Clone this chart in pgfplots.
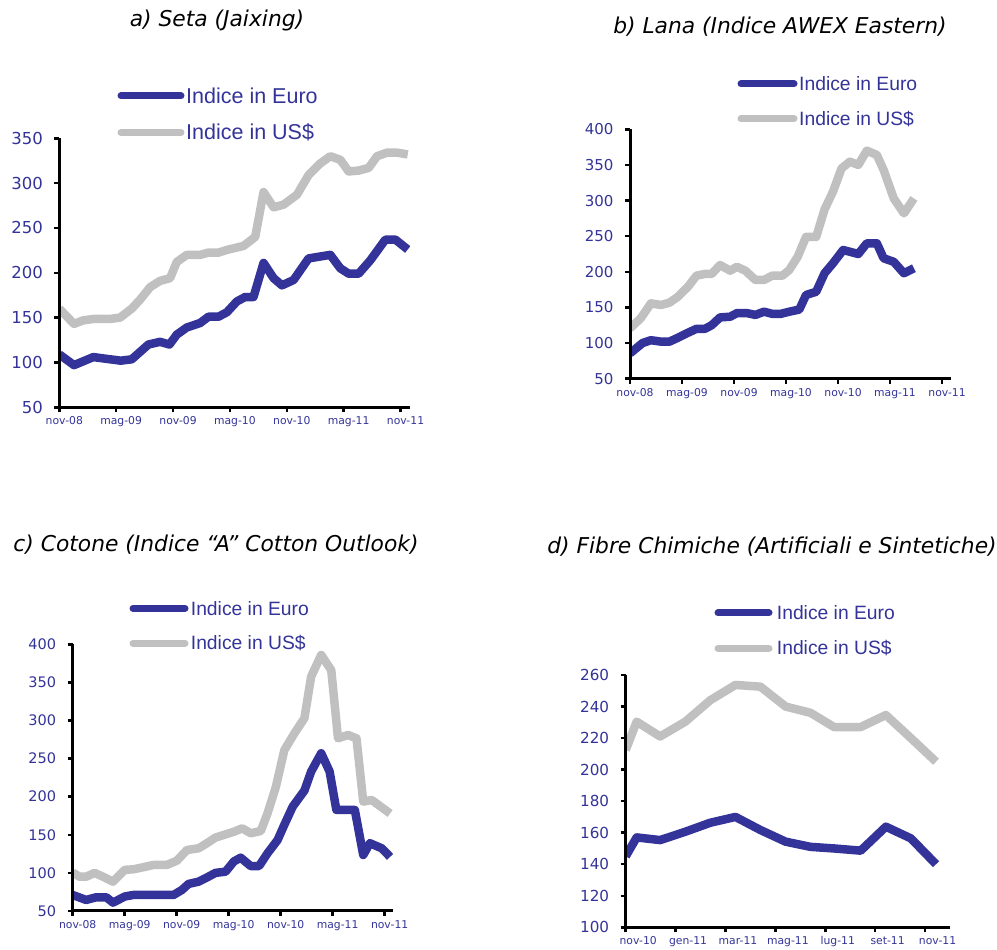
\documentclass[border=0pt]{standalone}
\usepackage{pgfplots}
\pgfplotsset{compat=1.18}
\usepackage{fontspec}
\setmainfont{DejaVu Sans}
\newfontfamily\legfont{Liberation Sans}

\definecolor{euro}{RGB}{51,51,153}
\definecolor{usd}{RGB}{192,192,192}

\pgfplotsset{
  panel/.style={
    scale only axis,
    anchor=south west,
    axis lines=left,
    axis on top,
    axis line style={-, line width=3pt, black},
    tick align=outside,
    major tick length=5pt,
    tick style={black, line width=2.5pt},
    minor tick num=0,
    ticklabel style={color=euro},
    /pgf/number format/assume math mode=true,
    x tick label style={font=\fontsize{10.8}{12}\selectfont, yshift=-1pt,
      text height=8pt, text depth=2pt},
    y tick label style={xshift=-8pt},
  },
  eu/.style={euro, line width=8.5pt, line join=round},
  us/.style={usd, line width=8.5pt, line join=round},
}

\newcommand{\legline}[4]{% x1 x2 y color
  \draw[#4, line width=7pt, line cap=round] (#1pt,#3pt) -- (#2pt,#3pt);}

\begin{document}
\begin{tikzpicture}
\path[use as bounding box] (0,0) rectangle (997pt,950pt);

% ---------------- a) Seta
\begin{axis}[panel,
  at={(59.3pt,542.7pt)}, width=350.7pt, height=269pt,
  xmin=0, xmax=37, ymin=50, ymax=350,
  xtick={0,6,...,36},
  xticklabels={nov-08,mag-09,nov-09,mag-10,nov-10,mag-11,nov-11},
  x tick label style={xshift=5pt},
  ytick={50,100,...,350},
  y tick label style={font=\fontsize{16.5}{18}\selectfont},
]
\addplot[us] coordinates {
(0,160) (1.55,143) (2.54,147) (3.59,148.5) (5.35,148.5) (6.41,150) (7.64,160)
(8.52,170) (9.58,184) (10.63,191) (11.69,194) (12.39,212) (13.45,220) (14.86,220)
(15.74,222.5) (16.80,222.5) (17.68,225.5) (19.44,230) (20.67,240) (21.55,290)
(22.61,273) (23.66,276) (25.07,287) (26.30,309) (27.54,322) (28.59,330) (29.65,326)
(30.53,313) (31.58,314) (32.64,317) (33.52,330) (34.58,334) (35.63,334) (36.76,332)
};
\addplot[eu] coordinates {
(0,109) (1.55,97) (3.59,106) (5.0,104) (6.48,102) (7.64,103.5) (9.40,120)
(10.63,123) (11.62,120) (12.39,131) (13.45,139) (14.86,144) (15.74,151) (16.80,151)
(17.68,156) (18.73,168) (19.61,173) (20.49,173) (21.55,211) (22.61,194) (23.49,186)
(24.72,192) (26.30,216) (28.59,220) (29.65,205) (30.53,199) (31.58,199) (32.82,214)
(34.40,237) (35.46,237) (36.76,226)
};
\end{axis}

% ---------------- b) Lana
\begin{axis}[panel,
  at={(630pt,571.3pt)}, width=320.7pt, height=249.4pt,
  xmin=0, xmax=37, ymin=50, ymax=400,
  xtick={0,6,...,36},
  xticklabels={nov-08,mag-09,nov-09,mag-10,nov-10,mag-11,nov-11},
  x tick label style={xshift=5pt},
  ytick={50,100,...,400},
  y tick label style={font=\fontsize{15}{16}\selectfont},
]
\addplot[us] coordinates {
(0,120.6) (1.25,135) (2.41,155.7) (3.58,153.4) (4.55,156.7) (5.53,165) (6.69,179)
(7.67,194.6) (8.64,197) (9.42,197) (10.39,209.5) (11.56,201.6) (12.33,207) (13.31,201.6)
(14.47,188.5) (15.45,188.5) (16.42,194.6) (17.59,194.6) (18.37,202.5) (19.34,221)
(20.31,249) (21.48,249) (22.45,287.7) (23.42,312.5) (24.40,345) (25.37,354.6)
(26.34,350) (27.32,370) (28.48,364) (29.26,343) (30.43,303) (31.60,282) (32.76,303)
};
\addplot[eu] coordinates {
(0,85.5) (1.44,100) (2.41,104) (3.58,102) (4.55,102) (5.53,107.5) (6.69,114.5)
(7.67,120) (8.64,120) (9.42,125) (10.39,136) (11.56,137) (12.33,142) (13.50,142)
(14.47,139.5) (15.45,144) (16.42,141) (17.39,141) (18.37,144) (19.53,147) (20.31,167.5)
(21.48,172) (22.45,198) (23.42,212) (24.59,230.6) (26.34,225) (27.32,240) (28.48,240)
(29.26,219) (30.43,214) (31.60,198) (32.76,205)
};
\end{axis}

% ---------------- c) Cotone
\begin{axis}[panel,
  at={(72.7pt,39pt)}, width=320.6pt, height=266.7pt,
  xmin=0, xmax=37, ymin=50, ymax=400,
  xtick={0,6,...,36},
  xticklabels={nov-08,mag-09,nov-09,mag-10,nov-10,mag-11,nov-11},
  x tick label style={xshift=5pt},
  ytick={50,100,...,400},
  y tick label style={font=\fontsize{14.5}{16}\selectfont},
]
\addplot[us] coordinates {
(0,100.5) (0.78,95) (1.55,95) (2.52,100) (3.49,95) (4.65,88.5) (6.01,104) (6.98,104.7)
(8.14,107.4) (9.30,110.4) (10.85,110.4) (12.02,116) (13.18,130) (14.53,132.3) (15.50,139)
(16.47,146.3) (17.44,149.8) (18.60,154) (19.57,158.5) (20.54,152) (21.71,155) (22.48,178)
(23.45,213) (24.42,261) (25.58,283) (26.74,303) (27.52,357.6) (28.68,386) (29.84,366)
(30.62,276.6) (31.78,281) (32.75,276.6) (33.53,193.5) (34.50,195.7) (36.63,178)
};
\addplot[eu] coordinates {
(0,71) (1.55,64.5) (2.71,68) (3.88,68) (4.65,61) (6.01,69) (6.98,71) (11.63,71)
(12.60,77.6) (13.37,85.5) (14.53,88.5) (15.50,94) (16.47,100) (17.64,101.6) (18.60,115)
(19.38,120) (20.54,109) (21.51,109) (22.48,125.7) (23.64,143) (24.42,163) (25.39,187)
(26.74,208) (27.52,233) (28.68,257) (29.65,233) (30.43,182.6) (31.20,182.6) (32.56,182.6)
(33.53,123.5) (34.30,139) (35.66,132.3) (36.63,121)
};
\end{axis}

% ---------------- d) Fibre chimiche
\begin{axis}[panel,
  at={(625.7pt,22.7pt)}, width=324.3pt, height=252.3pt,
  xmin=0, xmax=13, ymin=100, ymax=260,
  xtick={0,2,...,12},
  xticklabels={nov-10,gen-11,mar-11,mag-11,lug-11,set-11,nov-11},
  x tick label style={xshift=12.5pt},
  ytick={100,120,...,260},
  y tick label style={font=\fontsize{15.2}{17}\selectfont},
]
\addplot[us] coordinates {
(0,212.4) (0.44,230.4) (1.38,221) (2.39,230.4) (3.39,244) (4.40,253.7) (5.40,252.6)
(6.41,240) (7.41,236) (8.35,227) (9.42,227) (10.43,234.6) (11.43,220) (12.44,205)
};
\addplot[eu] coordinates {
(0,145) (0.44,157) (1.38,155.3) (2.39,160.6) (3.39,166.3) (4.40,170) (5.40,161.7)
(6.41,154.3) (7.41,151) (8.35,150) (9.42,148.6) (10.43,163.8) (11.43,156.4) (12.44,140)
};
\end{axis}

% ---------------- titles
\begin{scope}[every node/.style={font=\itshape\fontsize{21.8}{24}\selectfont, inner sep=0pt}]
\node at (217pt,930pt) {a) Seta (Jaixing)};
\node at (780pt,923pt) {b) Lana (Indice AWEX Eastern)};
\node at (216pt,405pt) {c) Cotone (Indice “A” Cotton Outlook)};
\node at (772pt,403pt) {d) Fibre Chimiche (Artificiali e Sintetiche)};
\end{scope}

% ---------------- legends
\legline{121}{181}{854}{euro}
\legline{121}{181}{817.3}{usd}
\node[anchor=west, inner sep=0pt, text=euro, font=\legfont\fontsize{21.5}{24}\selectfont] at (186pt,854pt) {Indice in Euro};
\node[anchor=west, inner sep=0pt, text=euro, font=\legfont\fontsize{21.5}{24}\selectfont] at (186pt,817.3pt) {Indice in US\$};

\legline{741}{794}{866}{euro}
\legline{741}{794}{831}{usd}
\node[anchor=west, inner sep=0pt, text=euro, font=\legfont\fontsize{19.3}{22}\selectfont] at (799pt,866pt) {Indice in Euro};
\node[anchor=west, inner sep=0pt, text=euro, font=\legfont\fontsize{19.3}{22}\selectfont] at (799pt,831pt) {Indice in US\$};

\legline{133}{185}{341.7}{euro}
\legline{133}{185}{306.7}{usd}
\node[anchor=west, inner sep=0pt, text=euro, font=\legfont\fontsize{19.3}{22}\selectfont] at (190.7pt,341.7pt) {Indice in Euro};
\node[anchor=west, inner sep=0pt, text=euro, font=\legfont\fontsize{19.3}{22}\selectfont] at (190.7pt,306.7pt) {Indice in US\$};

\legline{718}{769}{337}{euro}
\legline{718}{769}{301.7}{usd}
\node[anchor=west, inner sep=0pt, text=euro, font=\legfont\fontsize{19.3}{22}\selectfont] at (776.7pt,337pt) {Indice in Euro};
\node[anchor=west, inner sep=0pt, text=euro, font=\legfont\fontsize{19.3}{22}\selectfont] at (776.7pt,301.7pt) {Indice in US\$};
\end{tikzpicture}
\end{document}
